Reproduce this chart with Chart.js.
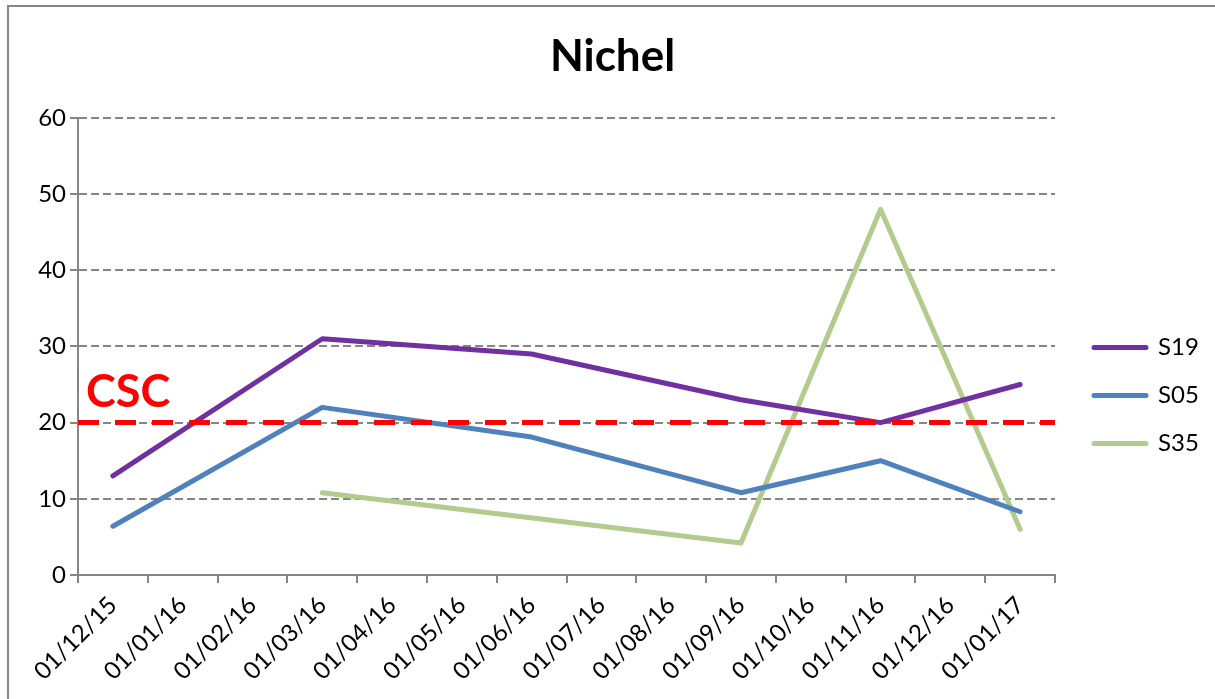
<!DOCTYPE html>
<html>
<head>
<meta charset="utf-8">
<title>Nichel</title>
<script src="https://cdn.jsdelivr.net/npm/chart.js@4.4.1/dist/chart.umd.min.js"></script>
<style>
  html, body { margin: 0; padding: 0; background: #ffffff; }
  #wrap { width: 1215px; height: 699px; }
</style>
</head>
<body>
<div id="wrap"><canvas id="chartNichel" width="1215" height="699"></canvas></div>
<script>
//---------------------------data---------------------------
var months = ["01/12/15", "01/01/16", "01/02/16", "01/03/16", "01/04/16", "01/05/16", "01/06/16",
              "01/07/16", "01/08/16", "01/09/16", "01/10/16", "01/11/16", "01/12/16", "01/01/17"];
var s19 = [13, null, null, 31, null, null, 29, null, null, 23, null, 20, null, 25];
var s05 = [6.4, null, null, 22, null, null, 18.1, null, null, 10.8, null, 15, null, 8.3];
var s35 = [null, null, null, 10.8, null, null, null, null, null, 4.2, null, 48, null, 6];
var cscLimit = 20;
var cscLabel = "CSC";
var yMin = 0, yMax = 60, yStep = 10;

var gridGray = '#868686';
var fontName = 'Lato, "Liberation Sans", sans-serif';

//---------------------------plugins---------------------------
// frame, CSC limit line and legend placement
var nichelExtras = {
  id: 'nichelExtras',
  afterInit: function (chart) {
    var lg = chart.legend;
    var origFit = lg.fit;
    lg.fit = function () {
      origFit.call(this);
      this.width = 160;
    };
  },
  afterLayout: function (chart) {
    var lg = chart.legend;
    lg.left += 15; lg.right += 15;
    lg.top += 46; lg.bottom += 46;
  },
  beforeDraw: function (chart) {
    var ctx = chart.ctx;
    ctx.save();
    ctx.strokeStyle = gridGray;
    ctx.lineWidth = 2;
    ctx.strokeRect(8, 6, 1400, 900);
    ctx.restore();
  },
  afterDatasetsDraw: function (chart) {
    var ctx = chart.ctx;
    var area = chart.chartArea;
    var y = chart.scales.y.getPixelForValue(cscLimit);
    ctx.save();
    ctx.strokeStyle = '#ff0000';
    ctx.lineWidth = 5;
    ctx.setLineDash([21, 16]);
    ctx.beginPath();
    ctx.moveTo(area.left, y);
    ctx.lineTo(area.right, y);
    ctx.stroke();
    ctx.setLineDash([]);
    ctx.fillStyle = '#ff0000';
    ctx.font = 'bold 45px ' + fontName;
    ctx.textBaseline = 'alphabetic';
    ctx.fillText(cscLabel, area.left + 8, y - 16);
    ctx.restore();
  }
};

function makeLine(label, values, color) {
  return {
    label: label,
    data: values,
    borderColor: color,
    backgroundColor: color,
    borderWidth: 5,
    borderCapStyle: 'round',
    borderJoinStyle: 'round',
    pointRadius: 0,
    pointHoverRadius: 0,
    tension: 0,
    spanGaps: true
  };
}

document.addEventListener('DOMContentLoaded', function () {
  new Chart(document.getElementById("chartNichel"), {
    type: "line",
    data: {
      labels: months,
      datasets: [
        makeLine("S19", s19, '#7030A0'),
        makeLine("S05", s05, '#4F81BD'),
        makeLine("S35", s35, '#B3CB8C')
      ]
    },
    options: {
      responsive: false,
      animation: false,
      devicePixelRatio: 1,
      layout: { padding: { left: 10, top: 0, right: 0, bottom: 0 } },
      plugins: {
        title: {
          display: true,
          text: "Nichel",
          color: '#000000',
          font: { family: fontName, size: 44, weight: 'bold' },
          padding: { top: 30, bottom: 35 }
        },
        legend: {
          position: 'right',
          align: 'center',
          labels: {
            color: '#000000',
            font: { family: fontName, size: 24 },
            boxWidth: 52,
            boxHeight: 0,
            padding: 24
          }
        },
        tooltip: { enabled: false }
      },
      scales: {
        x: {
          type: 'category',
          offset: true,
          grid: {
            display: true,
            offset: true,
            drawOnChartArea: false,
            drawTicks: true,
            tickLength: 8,
            color: gridGray,
            lineWidth: 2
          },
          border: { display: true, color: gridGray, width: 2 },
          ticks: {
            color: '#000000',
            font: { family: fontName, size: 24 },
            maxRotation: 45,
            minRotation: 45,
            autoSkip: false,
            padding: 8
          },
          afterFit: function (scale) { scale.height = 124; }
        },
        y: {
          min: yMin,
          max: yMax,
          grid: {
            color: gridGray,
            lineWidth: 2,
            tickLength: 8,
            drawTicks: true
          },
          border: { display: true, color: gridGray, width: 2, dash: [8, 4] },
          ticks: {
            stepSize: yStep,
            color: '#000000',
            font: { family: fontName, size: 24 },
            padding: 4
          },
          afterFit: function (scale) { scale.width = 68; }
        }
      }
    },
    plugins: [nichelExtras]
  });
});
</script>
</body>
</html>
